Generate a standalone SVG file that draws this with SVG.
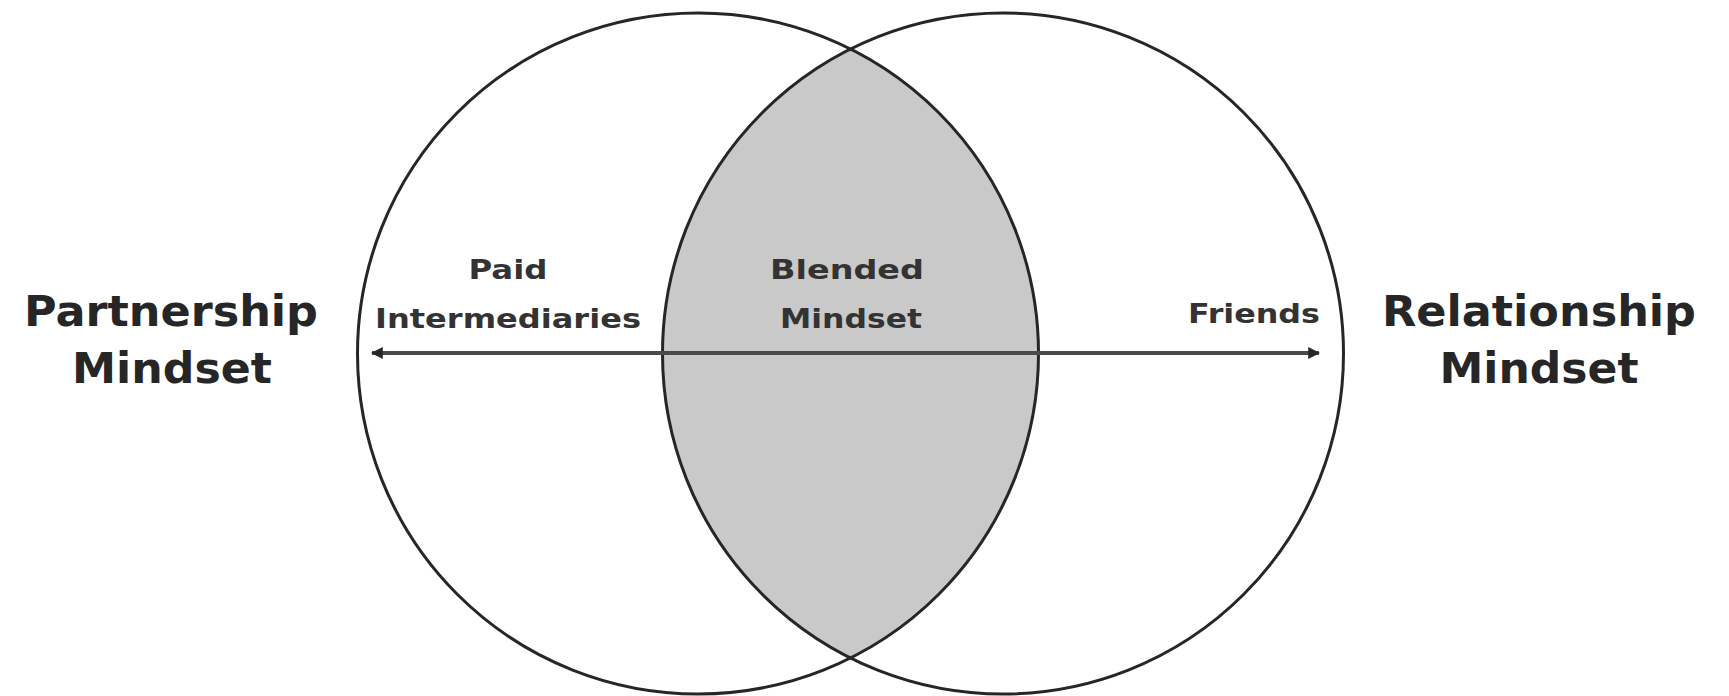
<svg xmlns="http://www.w3.org/2000/svg" width="1729" height="696" viewBox="0 0 1729 696">
<style>
.circle{fill:none;stroke:#262626;stroke-width:3}
.lens{fill:#c9c9c9;stroke:none}
.big{font-family:"DejaVu Sans",sans-serif;font-weight:bold;font-size:42px;fill:#262626;text-anchor:middle}
.small{font-family:"DejaVu Sans",sans-serif;font-weight:bold;font-size:27px;fill:#333;text-anchor:middle}
.arrow{stroke:#4a4a4a;stroke-width:4;fill:none}
</style>
<defs>
<marker id="ah" viewBox="0 0 10 10" refX="9" refY="5" markerWidth="3" markerHeight="3" orient="auto-start-reverse" markerUnits="strokeWidth">
<path d="M0,0 L10,5 L0,10 Z" fill="#262626"/>
</marker>
</defs>
<rect width="1729" height="696" fill="#ffffff"/>
<g id="overlap">
<path class="lens" d="M 850.5 49 A 340.5 340.5 0 0 1 850.5 658 A 340.5 340.5 0 0 1 850.5 49 Z"/>
</g>
<g id="left-circle">
<circle class="circle" cx="698" cy="353.5" r="340.5"/>
</g>
<g id="right-circle">
<circle class="circle" cx="1003" cy="353.5" r="340.5"/>
</g>
<g id="connectors">
<line class="arrow" x1="372" y1="353" x2="1319" y2="353" marker-start="url(#ah)" marker-end="url(#ah)"/>
</g>
<g id="partnership">
<text class="big" x="171" y="326" textLength="294" lengthAdjust="spacingAndGlyphs">Partnership</text>
<text class="big" x="172" y="383" textLength="200" lengthAdjust="spacingAndGlyphs">Mindset</text>
</g>
<g id="paid-intermediaries">
<text class="small" x="508" y="279" textLength="79" lengthAdjust="spacingAndGlyphs">Paid</text>
<text class="small" x="508" y="328" textLength="266" lengthAdjust="spacingAndGlyphs">Intermediaries</text>
</g>
<g id="blended">
<text class="small" x="847" y="279" textLength="154" lengthAdjust="spacingAndGlyphs">Blended</text>
<text class="small" x="851" y="328" textLength="142" lengthAdjust="spacingAndGlyphs">Mindset</text>
</g>
<g id="friends">
<text class="small" x="1254" y="323" textLength="132" lengthAdjust="spacingAndGlyphs">Friends</text>
</g>
<g id="relationship">
<text class="big" x="1539" y="326" textLength="314" lengthAdjust="spacingAndGlyphs">Relationship</text>
<text class="big" x="1539" y="383" textLength="199" lengthAdjust="spacingAndGlyphs">Mindset</text>
</g>
</svg>
